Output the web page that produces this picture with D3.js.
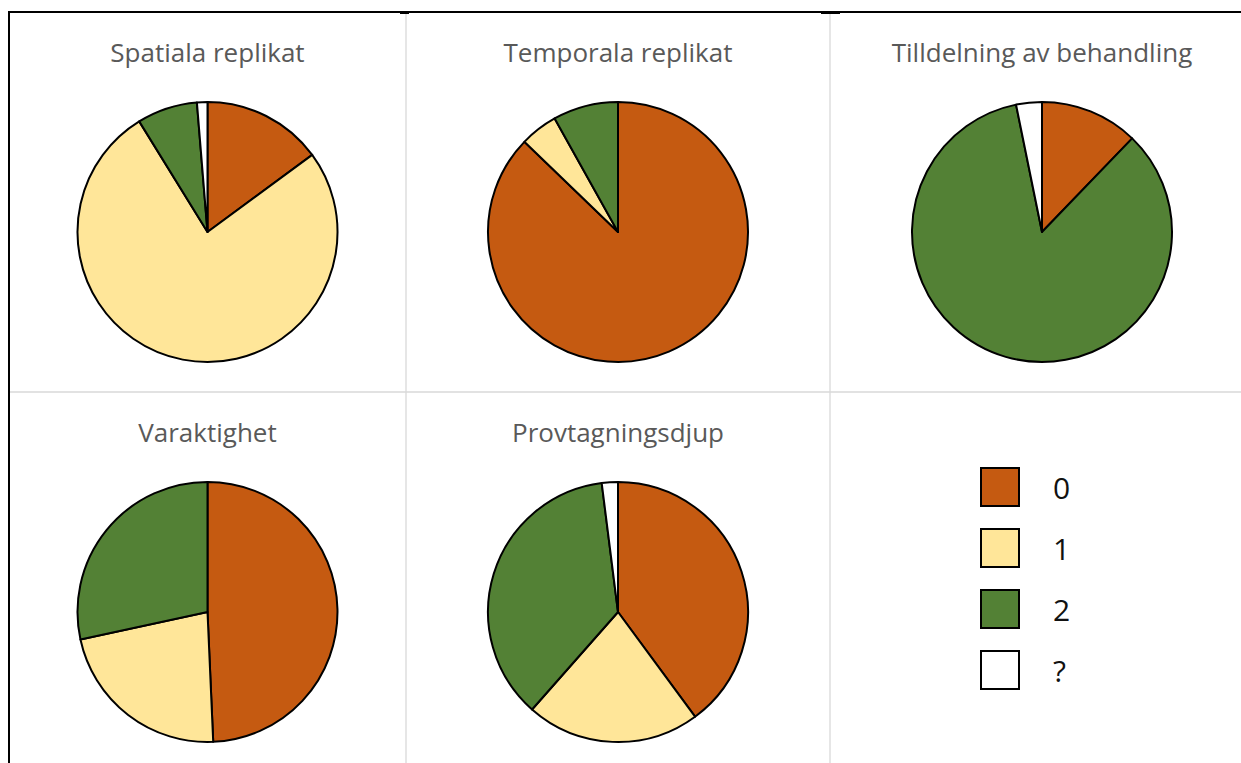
<!DOCTYPE html>
<html>
<head>
<meta charset="utf-8">
<script src="https://cdn.jsdelivr.net/npm/d3@7"></script>
<style>
  body { margin: 0; background: #fff; }
  .title { font-family: "Open Sans", sans-serif; font-size: 26px; fill: #595959; }
  .legendText { font-family: "Open Sans", sans-serif; font-size: 30px; fill: #111; }
</style>
</head>
<body>
<div class="chart"></div>
<script>
var svgWidth = 1241;
var svgHeight = 763;

// categories and colours
var categories = ["0", "1", "2", "?"];
var colors = ["#C55A11", "#FFE699", "#538135", "#FFFFFF"];

// panel titles
var titles = ["Spatiala replikat", "Temporala replikat", "Tilldelning av behandling", "Varaktighet", "Provtagningsdjup"];

// share (%) per category 0, 1, 2, ?
var spatiala = [14.9, 76.3, 7.5, 1.3];
var temporala = [87.2, 4.7, 8.1, 0];
var tilldelning = [12.2, 0, 84.6, 3.2];
var varaktighet = [49.3, 22.3, 28.4, 0];
var provtagning = [39.9, 21.6, 36.5, 2.0];

var panels = [spatiala, temporala, tilldelning, varaktighet, provtagning];

var svg = d3.select(".chart")
  .append("svg")
  .attr("width", svgWidth)
  .attr("height", svgHeight);

// table grid
var colEdges = [9, 406, 830, 1254];
var rowEdges = [12, 392, 772];

svg.append("line").attr("x1", 406).attr("x2", 406).attr("y1", 13).attr("y2", svgHeight)
  .attr("stroke", "#d9d9d9").attr("stroke-width", 1.3);
svg.append("line").attr("x1", 830).attr("x2", 830).attr("y1", 13).attr("y2", svgHeight)
  .attr("stroke", "#d9d9d9").attr("stroke-width", 1.3);
svg.append("line").attr("x1", 9).attr("x2", svgWidth).attr("y1", 392).attr("y2", 392)
  .attr("stroke", "#d9d9d9").attr("stroke-width", 1.3);

svg.append("line").attr("x1", 8).attr("x2", svgWidth).attr("y1", 12).attr("y2", 12)
  .attr("stroke", "#000").attr("stroke-width", 2);
svg.append("line").attr("x1", 9).attr("x2", 9).attr("y1", 11).attr("y2", svgHeight)
  .attr("stroke", "#000").attr("stroke-width", 2);
// little marks where the column rules meet the top rule
svg.append("line").attr("x1", 400).attr("x2", 409).attr("y1", 13).attr("y2", 13)
  .attr("stroke", "#000").attr("stroke-width", 2);
svg.append("line").attr("x1", 821).attr("x2", 840).attr("y1", 13).attr("y2", 13)
  .attr("stroke", "#000").attr("stroke-width", 2);

var radius = 130;
var pie = d3.pie().sort(null).value(d => d.value);
var arc = d3.arc().innerRadius(0).outerRadius(radius);

panels.forEach(function (values, i) {
  var col = i % 3;
  var row = Math.floor(i / 3);
  var cx = (colEdges[col] + colEdges[col + 1]) / 2;
  var cy = rowEdges[row] + 220;

  var g = svg.append("g").attr("transform", `translate(${cx}, ${cy})`);

  var data = values.map((v, j) => ({ value: v, color: colors[j] })).filter(d => d.value > 0);

  g.selectAll("path")
    .data(pie(data))
    .enter()
    .append("path")
    .attr("d", arc)
    .attr("fill", d => d.data.color)
    .attr("stroke", "#000")
    .attr("stroke-width", 2)
    .attr("stroke-linejoin", "round");

  svg.append("text")
    .attr("class", "title")
    .attr("x", cx)
    .attr("y", rowEdges[row] + 50)
    .attr("text-anchor", "middle")
    .text(titles[i]);
});

// legend
var legend = svg.append("g").attr("transform", "translate(981, 468)");
var items = legend.selectAll("g")
  .data(categories)
  .enter()
  .append("g")
  .attr("transform", (d, i) => `translate(0, ${i * 61})`);

items.append("rect")
  .attr("width", 38)
  .attr("height", 38)
  .attr("fill", (d, i) => colors[i])
  .attr("stroke", "#000")
  .attr("stroke-width", 2);

items.append("text")
  .attr("class", "legendText")
  .attr("x", 72)
  .attr("y", 31)
  .text(d => d);
</script>
</body>
</html>
